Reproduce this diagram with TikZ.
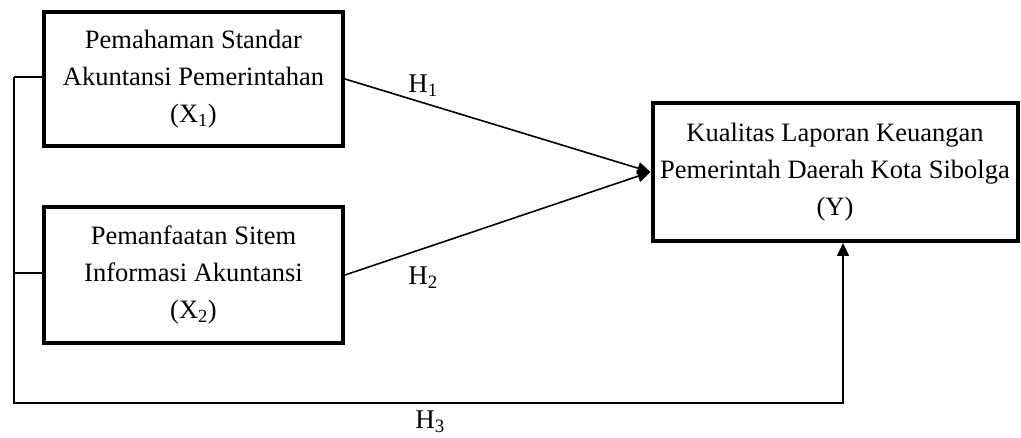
\documentclass[tikz,border=0pt]{standalone}
\usepackage{fontspec}
\setmainfont{Liberation Serif}
\usetikzlibrary{arrows.meta}
\begin{document}
\begin{tikzpicture}[x=1pt,y=-1pt,
  box/.style={draw, line width=4pt, align=center, inner sep=0pt,
    font=\fontsize{26.5}{37}\selectfont},
  conn/.style={line width=1.6pt},
  arr/.style={conn, -{Triangle[length=13pt,width=12pt]}},
  lbl/.style={font=\fontsize{27}{30}\selectfont, inner sep=0pt}]
\useasboundingbox (0,0) rectangle (1021,438);
\node[box, minimum width=299pt, minimum height=134pt] (x1) at (193.5,79)
  {Pemahaman Standar\\Akuntansi Pemerintahan\\(X\textsubscript{1})};
\node[box, minimum width=299pt, minimum height=136pt] (x2) at (193.5,275)
  {Pemanfaatan Sitem\\Informasi Akuntansi\\(X\textsubscript{2})};
\node[box, minimum width=365pt, minimum height=138pt] (y) at (835,172)
  {Kualitas Laporan Keuangan\\Pemerintah Daerah Kota Sibolga\\(Y)};
\coordinate (c1) at (14,77);
\coordinate (c2) at (14,273);
\coordinate (c3) at (14,403);
\coordinate (cb) at (843,403);
\draw[arr] (x1.east) -- (y.west);
\draw[arr] (x2.east) -- (y.west);
\draw[conn] (x1.west |- c1) -- (c1);
\draw[conn] (x2.west |- c2) -- (c2);
\draw[arr] (c1) -- (c3) -- (cb) -- (cb |- y.south);
\node[lbl] (h1) at (423,86) {H\textsubscript{1}};
\node[lbl] (h2) at (423,278) {H\textsubscript{2}};
\node[lbl] (h3) at (430,422) {H\textsubscript{3}};
\end{tikzpicture}
\end{document}
